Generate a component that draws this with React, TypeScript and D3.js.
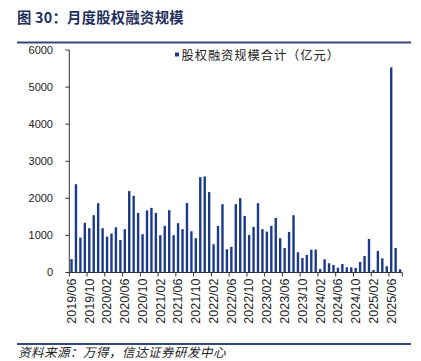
import React from "react";
import * as d3 from "d3";

const months: string[] = [
  "2019/06","2019/07","2019/08","2019/09","2019/10","2019/11","2019/12",
  "2020/01","2020/02","2020/03","2020/04","2020/05","2020/06","2020/07","2020/08","2020/09","2020/10","2020/11","2020/12",
  "2021/01","2021/02","2021/03","2021/04","2021/05","2021/06","2021/07","2021/08","2021/09","2021/10","2021/11","2021/12",
  "2022/01","2022/02","2022/03","2022/04","2022/05","2022/06","2022/07","2022/08","2022/09","2022/10","2022/11","2022/12",
  "2023/01","2023/02","2023/03","2023/04","2023/05","2023/06","2023/07","2023/08","2023/09","2023/10","2023/11","2023/12",
  "2024/01","2024/02","2024/03","2024/04","2024/05","2024/06","2024/07","2024/08","2024/09","2024/10","2024/11","2024/12",
  "2025/01","2025/02","2025/03","2025/04","2025/05","2025/06","2025/07","2025/08",
];

const financing: number[] = [
  360, 2380, 940, 1340, 1195, 1546, 1870,
  1195, 968, 1050, 1220, 878, 1168, 2195, 2068, 1608, 1032, 1675, 1743,
  1608, 1005, 1257, 1681, 1005, 1330, 1168, 1878, 1113, 924, 2573, 2590,
  2168, 762, 1257, 1843, 627, 690, 1843, 2005, 1527, 1013, 1230, 1870,
  1168, 1103, 1257, 1473, 924, 662, 1095, 1546, 546, 392, 473, 616,
  616, 95, 357, 249, 203, 130, 230, 140, 140, 122, 284, 446,
  905, 68, 581, 384, 168, 5530, 662, 86,
];

const yTicks: number[] = [0, 1000, 2000, 3000, 4000, 5000, 6000];
const labelEvery = 4;

const titlePrefix = "图";
const titleMain = "30：月度股权融资规模";
const legendLabel = "股权融资规模合计（亿元）";
const source = "资料来源：万得，信达证券研发中心";

export default function App() {
  const W = 421, H = 361;
  const x0 = 69.3, x1 = 402.3;
  const yTop = 50, yBottom = 272.5;

  const x = d3.scaleBand<string>().domain(months).range([x0, x1]).padding(0);
  const y = d3.scaleLinear().domain([0, 6000]).range([yBottom, yTop]);
  const bw = x.bandwidth();
  const barW = 2.4;

  const tickIdx = months.map((_, i) => i).filter((i) => i % labelEvery === 0);
  const fontLatin = "'Liberation Sans', Arial, sans-serif";
  const fontCJK = "'Noto Sans CJK SC', sans-serif";
  const barColor = "#1b3a8c";

  return (
    <svg width={W} height={H} style={{ position: "absolute", left: 0, top: 0, background: "#fff" }}>
      <rect x={0} y={0} width={W} height={H} fill="#fff" />
      {/* title */}
      <text x={17} y={23} fontFamily={fontCJK} fontWeight={700} fontSize={14.3} fill="#1f2f5c">
        {titlePrefix}
      </text>
      <text x={35} y={23} fontFamily={fontCJK} fontWeight={700} fontSize={14.3} fill="#1f2f5c" letterSpacing={0.3}>
        {titleMain}
      </text>
      <line x1={17} x2={411} y1={42.5} y2={42.5} stroke="#34497a" strokeWidth={2} />

      {/* y axis */}
      <line x1={x0} x2={x0} y1={yTop} y2={yBottom} stroke="#333" strokeWidth={1} />
      {yTicks.map((t) => (
        <g key={t}>
          <line x1={x0 - 4} x2={x0} y1={y(t)} y2={y(t)} stroke="#333" strokeWidth={1} />
          <text x={53} y={y(t)} dy="0.35em" textAnchor="end" fontFamily={fontLatin} fontSize={11} fill="#222">
            {t}
          </text>
        </g>
      ))}

      {/* bars */}
      {financing.map((v, i) => {
        const cx = (x(months[i]) as number) + bw / 2;
        return (
          <rect key={months[i]} x={cx - barW / 2} y={y(v)} width={barW} height={yBottom - y(v)} fill={barColor} />
        );
      })}

      {/* x axis */}
      <line x1={x0} x2={x1} y1={yBottom} y2={yBottom} stroke="#333" strokeWidth={1} />
      {tickIdx.concat([months.length]).map((i) => {
        const tx = x0 + i * bw;
        return <line key={"t" + i} x1={tx} x2={tx} y1={yBottom} y2={yBottom + 4} stroke="#333" strokeWidth={1} />;
      })}
      {tickIdx.map((i) => {
        const cx = (x(months[i]) as number) + bw / 2;
        return (
          <text
            key={"l" + i}
            transform={`translate(${cx},${yBottom + 6}) rotate(-90)`}
            textAnchor="end"
            dy="0.35em"
            fontFamily={fontLatin}
            fontSize={12.5}
            fill="#222"
          >
            {months[i]}
          </text>
        );
      })}

      {/* legend */}
      <rect x={175} y={52.5} width={4} height={4} fill={barColor} />
      <text x={181.5} y={59.5} fontFamily={fontCJK} fontSize={12.3} fill="#222" letterSpacing={0.9}>
        {legendLabel}
      </text>

      {/* footer */}
      <line x1={17} x2={411} y1={344} y2={344} stroke="#34497a" strokeWidth={2} />
      <text x={18} y={356.5} fontFamily={fontCJK} fontStyle="italic" fontSize={12.5} fill="#222" letterSpacing={0.5}>
        {source}
      </text>
    </svg>
  );
}
